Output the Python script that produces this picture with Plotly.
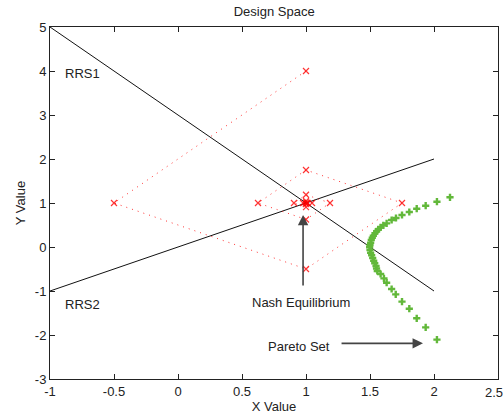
import plotly.graph_objects as go

# Reaction curves (best-response lines)
rrs1_x = [-1.0, 2.0]
rrs1_y = [5.0, -1.0]
rrs2_x = [-1.0, 2.0]
rrs2_y = [-1.0, 2.0]

# Iteration path converging to Nash equilibrium
iter_x = [1, -0.5, 1, 1.75, 1, 0.625, 1, 1.1875, 1, 0.906, 1, 1.047, 1, 0.977, 1, 1.012, 1]
iter_y = [4, 1, -0.5, 1, 1.75, 1, 0.625, 1, 1.1875, 1, 0.906, 1, 1.047, 1, 0.977, 1, 1.012]

# Pareto set points
pareto_x = [2.125, 2.023, 1.935, 1.865, 1.807, 1.750, 1.703, 1.669, 1.630, 1.604, 1.583,
            1.565, 1.552, 1.539, 1.526, 1.518, 1.510, 1.505, 1.500, 1.497, 1.500, 1.505,
            1.513, 1.521, 1.529, 1.537, 1.547, 1.551, 1.557, 1.583, 1.609, 1.630, 1.669,
            1.701, 1.750, 1.807, 1.865, 1.935, 2.023]
pareto_y = [1.129, 1.030, 0.939, 0.871, 0.795, 0.727, 0.659, 0.614, 0.538, 0.493, 0.448,
            0.402, 0.357, 0.311, 0.257, 0.211, 0.159, 0.098, 0.045, -0.007, -0.068, -0.130,
            -0.189, -0.250, -0.311, -0.370, -0.432, -0.490, -0.545, -0.614, -0.712, -0.811,
            -0.955, -1.076, -1.242, -1.402, -1.621, -1.826, -2.106]

x_ticks = [-1, -0.5, 0, 0.5, 1, 1.5, 2, 2.5]
x_ticklabels = ["-1", "-0.5", "0", "0.5", "1", "1.5", "2", "2.5"]
y_ticks = [-3, -2, -1, 0, 1, 2, 3, 4, 5]
y_ticklabels = ["-3", "-2", "-1", "0", "1", "2", "3", "4", "5"]

FONT = "Liberation Sans, Arial, sans-serif"
TXT = "#222222"

fig = go.Figure()
fig.add_trace(go.Scatter(x=rrs1_x, y=rrs1_y, mode="lines",
                         line=dict(color="#111111", width=1), showlegend=False))
fig.add_trace(go.Scatter(x=rrs2_x, y=rrs2_y, mode="lines",
                         line=dict(color="#111111", width=1), showlegend=False))
fig.add_trace(go.Scatter(x=iter_x, y=iter_y, mode="lines+markers",
                         line=dict(color="rgba(255,0,0,0.8)", width=1, dash="1px,5px"),
                         marker=dict(symbol="x-thin-open", size=6,
                                     line=dict(color="rgba(255,70,70,0.7)", width=1.2)),
                         showlegend=False))
fig.add_trace(go.Scatter(x=pareto_x, y=pareto_y, mode="markers",
                         marker=dict(symbol="cross", size=6, color="#62b83a",
                                     line=dict(width=0)),
                         showlegend=False))

annotations = [
    dict(x=-0.9, y=3.95, text="RRS1", showarrow=False, xanchor="left", yanchor="middle"),
    dict(x=-0.9, y=-1.3, text="RRS2", showarrow=False, xanchor="left", yanchor="middle"),
    dict(x=0.961, y=-1.27, text="Nash Equilibrium", showarrow=False,
         xanchor="center", yanchor="middle"),
    dict(x=0.945, y=-2.27, text="Pareto Set", showarrow=False,
         xanchor="center", yanchor="middle"),
    dict(x=0.977, y=0.73, ax=0.977, ay=-0.91, axref="x", ayref="y", text="",
         showarrow=True, arrowhead=2, arrowsize=1.3, arrowwidth=1.6, arrowcolor="#444444"),
    dict(x=1.914, y=-2.19, ax=1.266, ay=-2.19, axref="x", ayref="y", text="",
         showarrow=True, arrowhead=2, arrowsize=1.3, arrowwidth=1.6, arrowcolor="#444444"),
    # last x tick label (plotly drops it at the edge)
    dict(x=x_ticks[-1], y=0, xref="x", yref="paper", yshift=-4, xshift=-4,
         text=x_ticklabels[-1], showarrow=False, xanchor="center", yanchor="top"),
]
for a in annotations:
    a["font"] = dict(family=FONT, size=13, color=TXT)

axis_common = dict(showgrid=False, zeroline=False, showline=True, linecolor="#222222",
                   linewidth=1, mirror="ticks", ticks="inside", ticklen=5,
                   tickcolor="#222222", tickfont=dict(family=FONT, size=13, color=TXT))

fig.update_layout(
    width=504, height=414,
    margin=dict(l=50, r=6, t=27, b=35),
    paper_bgcolor="white", plot_bgcolor="white",
    title=dict(text="Design Space", x=0.544, xanchor="center", y=0.972, yanchor="middle",
               font=dict(family=FONT, size=13, color=TXT)),
    xaxis=dict(range=[-1, 2.5], tickvals=x_ticks, ticktext=x_ticklabels,
               title=dict(text="X Value", standoff=4, font=dict(family=FONT, size=13, color=TXT)),
               automargin=False, **axis_common),
    yaxis=dict(range=[-3, 5], tickvals=y_ticks, ticktext=y_ticklabels,
               title=dict(text="Y Value", standoff=6, font=dict(family=FONT, size=13, color=TXT)),
               automargin=False, **axis_common),
    annotations=annotations,
    showlegend=False,
)

fig.write_html("out.html", config={"displayModeBar": False},
               post_script="document.body.style.margin='0px';")
